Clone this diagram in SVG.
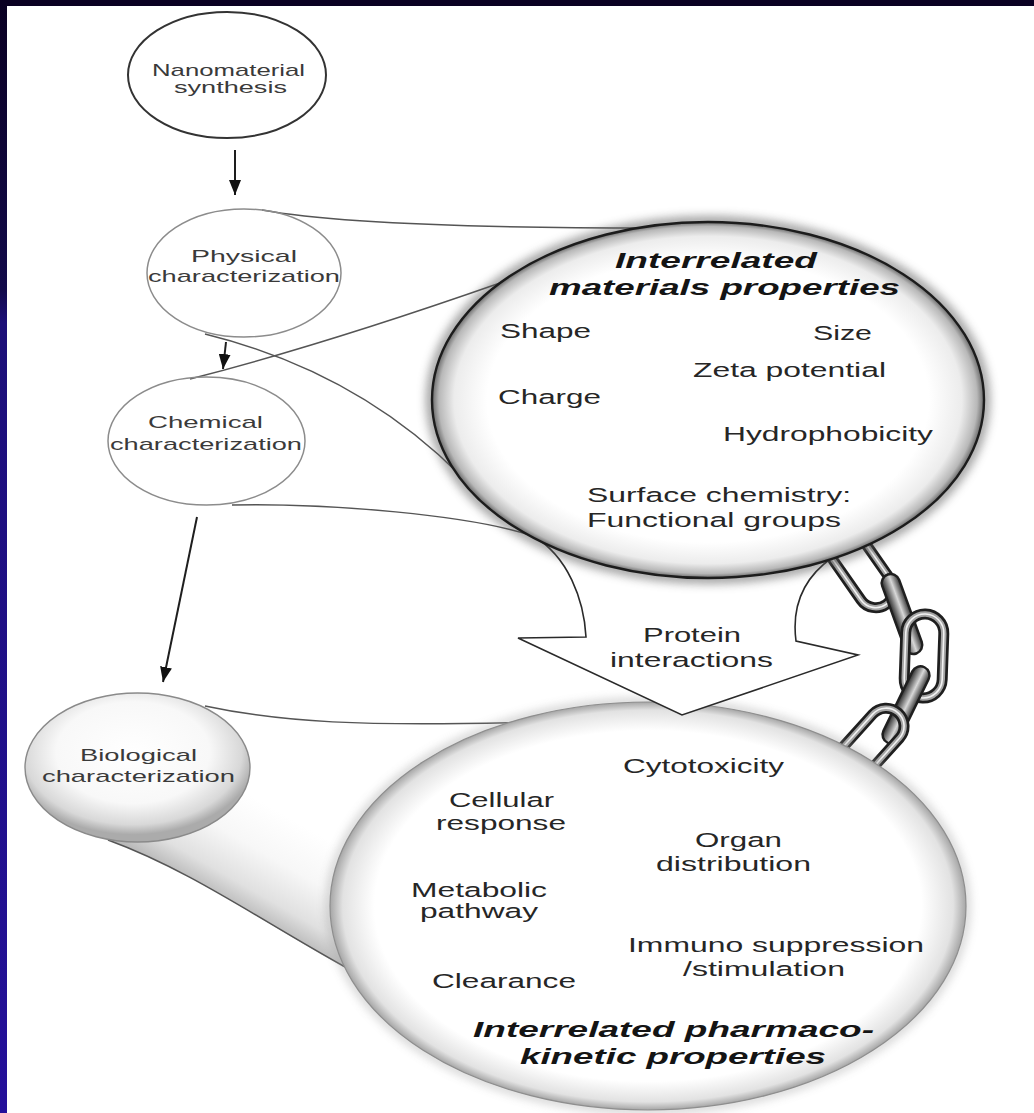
<svg xmlns="http://www.w3.org/2000/svg" width="1034" height="1113" viewBox="0 0 1034 1113">
  <defs>
    <style>
      .lbl { font-family: "Liberation Sans", Arial, sans-serif; font-size: 17px; fill: #3a3a3a; }
      .prop { font-family: "Liberation Sans", Arial, sans-serif; font-size: 20.5px; fill: #262626; }
      .head { font-family: "Liberation Sans", Arial, sans-serif; font-size: 22px; font-weight: bold; font-style: italic; fill: #141414; }
      .thin { fill: none; stroke: #8c8c8c; stroke-width: 1.5; }
      .cone { fill: none; stroke: #555; stroke-width: 1.5; }
      .flow { fill: none; stroke: #1e1e1e; stroke-width: 2; }
      .ring-dark { fill: none; stroke: #1f1f1f; stroke-width: 11; }
      .ring-mid { fill: none; stroke: #a4a4a4; stroke-width: 5.5; }
      .ring-hi { fill: none; stroke: #f2f2f2; stroke-width: 1.6; }
    </style>
    <linearGradient id="sideBand" x1="0" y1="0" x2="0" y2="1">
      <stop offset="0" stop-color="#0a0022"/>
      <stop offset="0.26" stop-color="#120a4a"/>
      <stop offset="0.29" stop-color="#1c0f78"/>
      <stop offset="1" stop-color="#24109a"/>
    </linearGradient>
    <radialGradient id="lensTop" cx="0.5" cy="0.5" r="0.5">
      <stop offset="0" stop-color="#ffffff"/>
      <stop offset="0.8" stop-color="#ffffff"/>
      <stop offset="0.92" stop-color="#ececec"/>
      <stop offset="0.975" stop-color="#b8b8b8"/>
      <stop offset="1" stop-color="#6a6a6a"/>
    </radialGradient>
    <radialGradient id="lensBottom" cx="0.5" cy="0.5" r="0.5">
      <stop offset="0" stop-color="#ffffff"/>
      <stop offset="0.86" stop-color="#ffffff"/>
      <stop offset="0.96" stop-color="#e2e2e2"/>
      <stop offset="1" stop-color="#a6a6a6"/>
    </radialGradient>
    <radialGradient id="sphere" cx="0.48" cy="0.4" r="0.55">
      <stop offset="0" stop-color="#ffffff"/>
      <stop offset="0.62" stop-color="#f8f8f8"/>
      <stop offset="0.88" stop-color="#d8d8d8"/>
      <stop offset="1" stop-color="#ababab"/>
    </radialGradient>
    <linearGradient id="coneShade" gradientUnits="userSpaceOnUse" x1="236" y1="912" x2="290" y2="818">
      <stop offset="0" stop-color="#b4b4b4"/>
      <stop offset="0.25" stop-color="#e0e0e0"/>
      <stop offset="0.6" stop-color="#f7f7f7"/>
      <stop offset="1" stop-color="#ffffff"/>
    </linearGradient>
    <linearGradient id="bar" x1="0" y1="0" x2="0" y2="1">
      <stop offset="0" stop-color="#333"/>
      <stop offset="0.45" stop-color="#d8d8d8"/>
      <stop offset="1" stop-color="#262626"/>
    </linearGradient>
    <filter id="soft" x="-20%" y="-20%" width="140%" height="140%">
      <feGaussianBlur stdDeviation="5"/>
    </filter>
    <marker id="ah" viewBox="0 0 10 10" refX="10" refY="5" markerWidth="15" markerHeight="12" markerUnits="userSpaceOnUse" orient="auto" preserveAspectRatio="none">
      <path d="M0,0 L10,5 L0,10 z" fill="#111"/>
    </marker>
  </defs>

  <!-- page -->
  <rect x="0" y="0" width="1034" height="1113" fill="#ffffff"/>
  <rect x="0" y="0" width="1034" height="6" fill="#0a0022"/>
  <rect x="0" y="0" width="7" height="1113" fill="url(#sideBand)"/>

  <!-- connectors: flow arrows and magnifier outlines -->
  <g id="connectors">
    <!-- shaded cone from the biological node to the lower lens -->
    <path d="M205,706 C280,722 360,727 535,722 L345,968 C260,920 190,870 108,840 Z" fill="url(#coneShade)"/>
    <path class="cone" stroke="#777" d="M205,706 C280,722 360,727 535,722"/>
    <path class="cone" stroke="#6a6a6a" d="M108,840 C190,870 260,920 347,968"/>

    <!-- cone from the physical node to the upper lens -->
    <path class="cone" d="M262,210 Q360,228 652,228"/>
    <path class="cone" stroke="#444" d="M205,334 C290,355 380,395 460,475"/>

    <!-- cone from the chemical node to the upper lens -->
    <path class="cone" stroke="#b4b4b4" stroke-width="1.2" d="M190,379 C280,356 400,318 500,283"/>
    <path class="cone" d="M232,505 C330,503 470,515 533,536"/>

    <!-- process flow -->
    <line class="flow" x1="235" y1="150" x2="235" y2="195" marker-end="url(#ah)"/>
    <line class="flow" x1="226" y1="342" x2="223" y2="369" marker-end="url(#ah)"/>
    <line class="flow" x1="197" y1="517" x2="163" y2="682" marker-end="url(#ah)"/>
  </g>

  <!-- chain linking the two lenses -->
  <g id="chain">
    <g transform="translate(862,570) rotate(55)">
      <rect class="ring-dark" x="-42" y="-18" width="84" height="36" rx="18"/>
      <rect class="ring-mid" x="-42" y="-18" width="84" height="36" rx="18"/>
      <rect class="ring-hi" x="-42" y="-18" width="84" height="36" rx="18"/>
    </g>
    <g transform="translate(902,614) rotate(70)">
      <rect x="-42" y="-9" width="84" height="18" rx="9" fill="url(#bar)" stroke="#1f1f1f" stroke-width="2.5"/>
    </g>
    <g transform="translate(924,656) rotate(92)">
      <rect class="ring-dark" x="-42" y="-19" width="84" height="38" rx="19"/>
      <rect class="ring-mid" x="-42" y="-19" width="84" height="38" rx="19"/>
      <rect class="ring-hi" x="-42" y="-19" width="84" height="38" rx="19"/>
    </g>
    <g transform="translate(906,705) rotate(116)">
      <rect x="-42" y="-9" width="84" height="18" rx="9" fill="url(#bar)" stroke="#1f1f1f" stroke-width="2.5"/>
    </g>
    <g transform="translate(870,744) rotate(132)">
      <rect class="ring-dark" x="-42" y="-18" width="84" height="36" rx="18"/>
      <rect class="ring-mid" x="-42" y="-18" width="84" height="36" rx="18"/>
      <rect class="ring-hi" x="-42" y="-18" width="84" height="36" rx="18"/>
    </g>
  </g>

  <!-- lower lens: pharmacokinetic properties -->
  <g id="pharmacokinetic-properties">
    <ellipse cx="648" cy="906" rx="318" ry="204" fill="none" stroke="#999" stroke-width="8" opacity="0.45" filter="url(#soft)"/>
    <ellipse cx="648" cy="906" rx="318" ry="204" fill="url(#lensBottom)" stroke="#8e8e8e" stroke-width="1.2"/>
    <text class="prop" x="623" y="773" textLength="161" lengthAdjust="spacingAndGlyphs">Cytotoxicity</text>
    <text class="prop" x="449" y="807" textLength="105" lengthAdjust="spacingAndGlyphs">Cellular</text>
    <text class="prop" x="436" y="830" textLength="130" lengthAdjust="spacingAndGlyphs">response</text>
    <text class="prop" x="695" y="847" textLength="87" lengthAdjust="spacingAndGlyphs">Organ</text>
    <text class="prop" x="656" y="871" textLength="155" lengthAdjust="spacingAndGlyphs">distribution</text>
    <text class="prop" x="411" y="897" textLength="136" lengthAdjust="spacingAndGlyphs">Metabolic</text>
    <text class="prop" x="420" y="918" textLength="118" lengthAdjust="spacingAndGlyphs">pathway</text>
    <text class="prop" x="628" y="952" textLength="296" lengthAdjust="spacingAndGlyphs">Immuno suppression</text>
    <text class="prop" x="683" y="976" textLength="162" lengthAdjust="spacingAndGlyphs">/stimulation</text>
    <text class="prop" x="432" y="988" textLength="144" lengthAdjust="spacingAndGlyphs">Clearance</text>
    <text class="head" x="473" y="1037" textLength="401" lengthAdjust="spacingAndGlyphs">Interrelated pharmaco-</text>
    <text class="head" x="520" y="1064" textLength="306" lengthAdjust="spacingAndGlyphs">kinetic properties</text>
  </g>

  <!-- protein interactions arrow -->
  <g id="protein-interactions">
    <path d="M533,536 C568,556 584,600 586,637 L518,638 L682,715 L858,655 L796,641 C792,610 800,580 833,557"
          fill="#ffffff" stroke="#2a2a2a" stroke-width="1.6" stroke-linejoin="miter"/>
    <text class="prop" x="643" y="642" textLength="98" lengthAdjust="spacingAndGlyphs">Protein</text>
    <text class="prop" x="610" y="667" textLength="163" lengthAdjust="spacingAndGlyphs">interactions</text>
  </g>

  <!-- upper lens: materials properties -->
  <g id="materials-properties">
    <ellipse cx="708" cy="400" rx="276" ry="178" fill="none" stroke="#555" stroke-width="12" opacity="0.55" filter="url(#soft)"/>
    <ellipse cx="708" cy="400" rx="276" ry="178" fill="url(#lensTop)" stroke="#1c1c1c" stroke-width="2.4"/>
    <text class="head" x="615" y="268" textLength="202" lengthAdjust="spacingAndGlyphs">Interrelated</text>
    <text class="head" x="549" y="295" textLength="351" lengthAdjust="spacingAndGlyphs">materials properties</text>
    <text class="prop" x="500" y="338" textLength="91" lengthAdjust="spacingAndGlyphs">Shape</text>
    <text class="prop" x="813" y="340" textLength="59" lengthAdjust="spacingAndGlyphs">Size</text>
    <text class="prop" x="693" y="377" textLength="193" lengthAdjust="spacingAndGlyphs">Zeta potential</text>
    <text class="prop" x="498" y="404" textLength="103" lengthAdjust="spacingAndGlyphs">Charge</text>
    <text class="prop" x="723" y="441" textLength="210" lengthAdjust="spacingAndGlyphs">Hydrophobicity</text>
    <text class="prop" x="587" y="502" textLength="264" lengthAdjust="spacingAndGlyphs">Surface chemistry:</text>
    <text class="prop" x="587" y="527" textLength="254" lengthAdjust="spacingAndGlyphs">Functional groups</text>
  </g>

  <!-- process steps -->
  <g id="nanomaterial-synthesis">
    <ellipse cx="227" cy="75" rx="99" ry="63" fill="#ffffff" stroke="#333" stroke-width="2"/>
    <text class="lbl" x="152" y="76" textLength="153" lengthAdjust="spacingAndGlyphs">Nanomaterial</text>
    <text class="lbl" x="174" y="93" textLength="113" lengthAdjust="spacingAndGlyphs">synthesis</text>
  </g>

  <g id="physical-characterization">
    <ellipse class="thin" cx="244" cy="273" rx="97" ry="64" fill="#ffffff"/>
    <text class="lbl" x="191" y="262" textLength="106" lengthAdjust="spacingAndGlyphs">Physical</text>
    <text class="lbl" x="148" y="282" textLength="192" lengthAdjust="spacingAndGlyphs">characterization</text>
  </g>

  <g id="chemical-characterization">
    <ellipse class="thin" cx="206.5" cy="441" rx="98.5" ry="64" fill="#ffffff" stroke="#9a9a9a"/>
    <text class="lbl" x="148" y="428" textLength="115" lengthAdjust="spacingAndGlyphs">Chemical</text>
    <text class="lbl" x="110" y="450" textLength="192" lengthAdjust="spacingAndGlyphs">characterization</text>
  </g>

  <g id="biological-characterization">
    <ellipse cx="137.5" cy="767.5" rx="112.5" ry="74.5" fill="url(#sphere)" stroke="#8a8a8a" stroke-width="1.4"/>
    <text class="lbl" x="80" y="761" textLength="117" lengthAdjust="spacingAndGlyphs">Biological</text>
    <text class="lbl" x="42" y="782" textLength="193" lengthAdjust="spacingAndGlyphs">characterization</text>
  </g>
</svg>
